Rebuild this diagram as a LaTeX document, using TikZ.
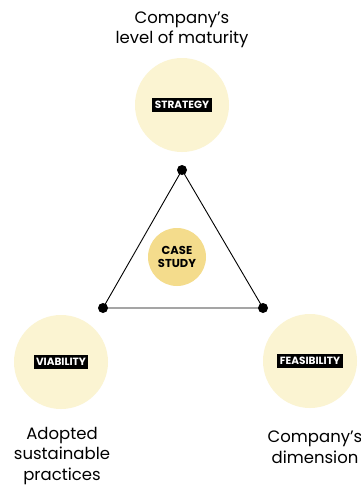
\documentclass[tikz,border=0pt]{standalone}
\usepackage{fontspec}
\setmainfont{Poppins}
\begin{document}
\begin{tikzpicture}[x=1pt,y=-1pt,
  pale/.style={circle,fill=paleyellow,draw=none,minimum size=94pt,inner sep=0pt},
  core/.style={circle,fill=coreyellow,draw=none,minimum size=58pt,inner sep=0pt,
    font=\fontsize{11.5}{13}\selectfont\bfseries,align=center},
  tag/.style={fill=black,text=white,inner xsep=2.5pt,inner ysep=3pt,
    font=\fontsize{10.5}{11}\selectfont\bfseries},
  caption/.style={align=center,font=\fontsize{16.5}{20.5}\selectfont},
  vertex/.style={circle,fill=black,inner sep=0pt,minimum size=10pt},
  edge/.style={line width=0.9pt}]
\definecolor{paleyellow}{HTML}{FBF4D2}
\definecolor{coreyellow}{HTML}{F4DC8C}
\useasboundingbox (0,0) rectangle (361,485);
\fill[white] (0,0) rectangle (361,485);

% pale circles with their black tags
\node[pale] (cs) at (182,105) {};
\node[pale] (cv) at (61,362) {};
\node[pale] (cf) at (310,361) {};
\node[tag] (strategy) at (cs) {STRATEGY};
\node[tag] (viability) at (cv) {VIABILITY};
\node[tag] (feasibility) at (cf) {FEASIBILITY};

% central circle
\node[core] (case) at (177,257) {CASE\\STUDY};

% triangle
\node[vertex] (vt) at (182,170) {};
\node[vertex] (vl) at (103,308) {};
\node[vertex] (vr) at (263,308) {};
\draw[edge] (vt.center) -- (vl.center) -- (vr.center) -- cycle;

% captions
\node[caption] (capt) at (182,30) {Company's\\level of maturity};
\node[caption] (capl) at (62,456) {Adopted\\sustainable\\practices};
\node[caption] (capr) at (315,447) {Company's\\dimension};
\end{tikzpicture}
\end{document}
